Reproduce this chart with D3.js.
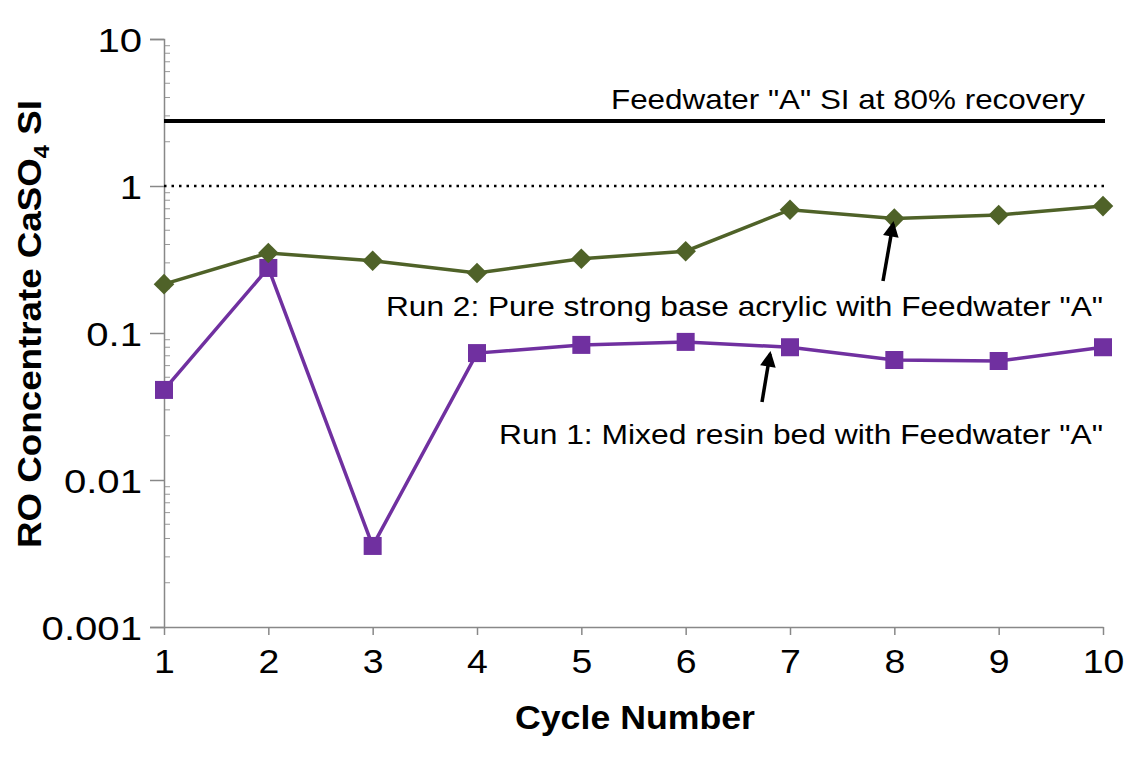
<!DOCTYPE html>
<html><head><meta charset="utf-8">
<script src="https://cdn.jsdelivr.net/npm/d3@7"></script>
<style>body{margin:0;background:#fff}svg{display:block;font-family:"Liberation Sans",Arial,sans-serif}</style>
</head><body><svg id="c" width="1133" height="757"></svg>
<script>
const cycles = [1,2,3,4,5,6,7,8,9,10];
const run1 = [0.041,0.277,0.00356,0.073,0.083,0.087,0.080,0.0655,0.0645,0.080];
const run2 = [0.215,0.35,0.31,0.256,0.32,0.36,0.69,0.60,0.635,0.73];
const feedSI = 2.77;
const yTicks = [0.001,0.01,0.1,1,10];
const yTickLabels = ["0.001","0.01","0.1","1","10"];
const xTickLabels = ["1","2","3","4","5","6","7","8","9","10"];

const svg = d3.select("#c");
const x = d3.scaleLinear().domain([1,10]).range([164,1103]);
const y = d3.scaleLog().domain([0.001,10]).range([627,39]);

function stretch(sel, f){
  sel.each(function(){
    const w = this.getComputedTextLength();
    d3.select(this).attr("textLength", w*f).attr("lengthAdjust","spacingAndGlyphs");
  });
}

// minor ticks
const minors = [];
for (let d=0.001; d<10; d*=10) for (let k=2;k<=9;k++) minors.push(d*k);
svg.append("g").selectAll("line").data(minors).join("line")
  .attr("x1",164).attr("x2",170).attr("y1",d=>y(d)).attr("y2",d=>y(d))
  .attr("stroke","#999").attr("stroke-width",1);

// y axis
const yAxis = d3.axisLeft(y).tickValues(yTicks).tickFormat((d,i)=>yTickLabels[i]).tickSize(14).tickPadding(8);
const gy = svg.append("g").attr("transform","translate(164,0)").call(yAxis);
gy.select(".domain").attr("stroke","#888").attr("stroke-width",1.5);
gy.selectAll(".tick line").attr("stroke","#888").attr("stroke-width",1.5);
gy.selectAll("text").attr("font-size",34).attr("fill","#000").attr("dy","0.36em").attr("font-family","Liberation Sans, Arial, sans-serif");
stretch(gy.selectAll("text"),1.18);

// x axis
const xAxis = d3.axisBottom(x).tickValues(cycles).tickFormat((d,i)=>xTickLabels[i]).tickSize(8).tickSizeOuter(0).tickPadding(14);
const gx = svg.append("g").attr("transform","translate(0,627)").call(xAxis);
gx.select(".domain").attr("stroke","#888").attr("stroke-width",1.5);
gx.selectAll(".tick line").attr("stroke","#888").attr("stroke-width",1.5);
gx.selectAll("text").attr("font-size",34).attr("fill","#000").attr("font-family","Liberation Sans, Arial, sans-serif");
stretch(gx.selectAll("text"),1.1);

// reference lines
svg.append("line").attr("x1",x(1)).attr("x2",x(10)+2).attr("y1",y(1)).attr("y2",y(1))
  .attr("stroke","#000").attr("stroke-width",2.5).attr("stroke-dasharray","2.5,5");
svg.append("line").attr("x1",x(1)).attr("x2",x(10)+2).attr("y1",y(feedSI)).attr("y2",y(feedSI))
  .attr("stroke","#000").attr("stroke-width",4);

const line = d3.line().x((d,i)=>x(cycles[i])).y(d=>y(d));
svg.append("path").datum(run1).attr("d",line).attr("fill","none").attr("stroke","#7030a0").attr("stroke-width",3.5);
svg.append("path").datum(run2).attr("d",line).attr("fill","none").attr("stroke","#4f6228").attr("stroke-width",3.5);

svg.append("g").selectAll("rect").data(run1).join("rect")
  .attr("x",(d,i)=>x(cycles[i])-9).attr("y",d=>y(d)-9).attr("width",18).attr("height",18).attr("fill","#7030a0");
const dia = d3.symbol().type(d3.symbolDiamond2).size(270);
svg.append("g").selectAll("path").data(run2).join("path")
  .attr("transform",(d,i)=>`translate(${x(cycles[i])},${y(d)})`).attr("d",dia).attr("fill","#4f6228");

// annotations
const txt = (t,xx,yy,w)=>svg.append("text").attr("x",xx).attr("y",yy).attr("text-anchor","end")
  .attr("font-size",28).attr("fill","#000").attr("textLength",w).attr("lengthAdjust","spacingAndGlyphs").text(t);
txt('Feedwater "A" SI at 80% recovery',1085,109,474);
txt('Run 2: Pure strong base acrylic with Feedwater "A"',1103,316,717);
txt('Run 1: Mixed resin bed with Feedwater "A"',1103,444,604);

svg.append("defs").append("marker").attr("id","ah").attr("viewBox","0 0 10 10").attr("refX",8).attr("refY",5)
  .attr("markerWidth",5).attr("markerHeight",4.5).attr("orient","auto")
  .append("path").attr("d","M0,0 L10,5 L0,10 Z").attr("fill","#000");
const arrow=(x1,y1,x2,y2)=>svg.append("line").attr("x1",x1).attr("y1",y1).attr("x2",x2).attr("y2",y2)
  .attr("stroke","#000").attr("stroke-width",3.5).attr("marker-end","url(#ah)");
arrow(883,281,893,224);
arrow(762,402,770,354);

// titles
const xt = svg.append("text").attr("x",635).attr("y",729).attr("text-anchor","middle").attr("font-size",33).attr("font-weight","bold").text("Cycle Number");
xt.attr("textLength",240).attr("lengthAdjust","spacingAndGlyphs");
const yt = svg.append("text").attr("transform","translate(41,324) rotate(-90)").attr("text-anchor","middle")
  .attr("font-size",34).attr("font-weight","bold").attr("textLength",448).attr("lengthAdjust","spacingAndGlyphs");
yt.append("tspan").text("RO Concentrate CaSO");
yt.append("tspan").attr("font-size",22).attr("dy",8).text("4");
yt.append("tspan").attr("dy",-8).text(" SI");
</script></body></html>
